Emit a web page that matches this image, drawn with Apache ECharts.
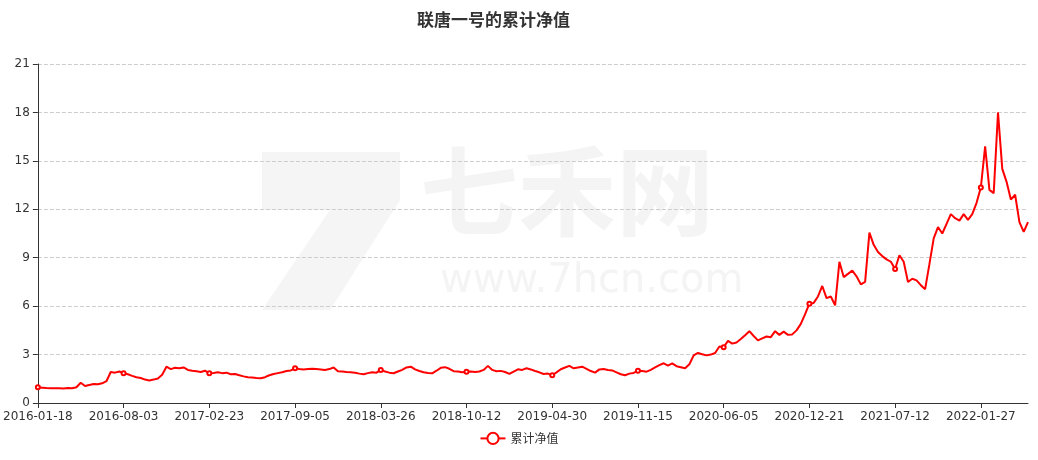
<!DOCTYPE html>
<html>
<head>
<meta charset="utf-8">
<script src="https://cdn.jsdelivr.net/npm/echarts@6/dist/echarts.min.js"></script>
<style>
html,body{margin:0;padding:0;background:#fff;}
#main{width:1038px;height:460px;}
</style>
</head>
<body>
<div id="main"></div>
<script>
// Tick-label dates (every 20th category)
var labelDates = ['2016-01-18','2016-08-03','2017-02-23','2017-09-05','2018-03-26','2018-10-12',
  '2019-04-30','2019-11-15','2020-06-05','2020-12-21','2021-07-12','2022-01-27'];
var stepPerLabel = 20;
var tailCount = 11;

// Cumulative NAV values
var navValues = [
  0.97,0.95,0.93,0.92,0.91,0.92,0.90,0.93,0.91,0.98,1.25,1.05,1.12,1.18,1.16,1.22,1.35,1.92,1.88,1.95,
  1.84,1.78,1.68,1.60,1.55,1.45,1.40,1.45,1.52,1.75,2.25,2.10,2.18,2.15,2.20,2.05,2.00,1.96,1.92,2.00,
  1.84,1.86,1.90,1.85,1.88,1.78,1.80,1.72,1.65,1.60,1.58,1.55,1.53,1.60,1.72,1.80,1.85,1.90,1.98,2.02,
  2.15,2.10,2.08,2.10,2.12,2.10,2.08,2.05,2.10,2.20,1.97,1.95,1.92,1.90,1.88,1.82,1.78,1.85,1.90,1.88,
  2.05,1.95,1.88,1.84,1.95,2.05,2.20,2.25,2.08,1.98,1.90,1.86,1.84,2.00,2.18,2.22,2.12,1.97,1.95,1.90,
  1.93,1.95,1.92,1.95,2.05,2.30,2.05,1.97,1.99,1.92,1.80,1.95,2.09,2.05,2.15,2.08,1.98,1.90,1.80,1.82,
  1.72,1.90,2.09,2.20,2.30,2.15,2.20,2.25,2.12,1.98,1.88,2.08,2.10,2.05,2.02,1.90,1.78,1.72,1.82,1.86,
  2.00,1.98,1.94,2.05,2.20,2.35,2.46,2.32,2.45,2.28,2.22,2.15,2.40,2.95,3.10,3.02,2.95,3.00,3.10,3.50,
  3.45,3.85,3.68,3.75,3.96,4.20,4.45,4.15,3.88,4.00,4.12,4.08,4.45,4.22,4.42,4.22,4.25,4.50,4.90,5.50,
  6.15,6.20,6.60,7.25,6.50,6.60,6.05,8.75,7.80,8.00,8.20,7.85,7.35,7.50,10.55,9.80,9.35,9.10,8.90,8.75,
  8.30,9.15,8.75,7.50,7.70,7.60,7.30,7.05,8.60,10.20,10.90,10.50,11.10,11.70,11.45,11.30,11.70,11.35,11.70,12.40,
  13.35,15.90,13.20,13.00,18.00,14.50,13.70,12.60,12.90,11.20,10.60,11.20
];

var yTicks = { min: 0, max: 21, interval: 3 };

// Build category dates: anchors at label dates, in-between days spread evenly
function parseD(s){ var p=s.split('-'); return Date.UTC(+p[0], +p[1]-1, +p[2]); }
function fmt(t){ var d=new Date(t); var m=d.getUTCMonth()+1, dd=d.getUTCDate();
  return d.getUTCFullYear()+'-'+(m<10?'0':'')+m+'-'+(dd<10?'0':'')+dd; }
var categories = [];
for (var k=0;k<labelDates.length-1;k++){
  var a=parseD(labelDates[k]), b=parseD(labelDates[k+1]);
  for (var j=0;j<stepPerLabel;j++){
    categories.push(j===0?labelDates[k]:fmt(a+Math.round((b-a)*j/stepPerLabel/86400000)*86400000));
  }
}
var lastA=parseD(labelDates[labelDates.length-1]);
categories.push(labelDates[labelDates.length-1]);
for (var j=1;j<=tailCount;j++){ categories.push(fmt(lastA+j*10*86400000)); }

var chart = echarts.init(document.getElementById('main'), null, {renderer:'canvas'});
chart.setOption({
  backgroundColor: '#fff',
  animation: false,
  title: {
    text: '联唐一号的累计净值',
    left: 412, top: 6,
    textStyle: { fontSize: 17, fontWeight: 'bold', color: '#333', fontFamily: 'Noto Sans CJK SC' }
  },
  legend: {
    bottom: 10, left: 'center',
    data: ['累计净值'],
    itemWidth: 25, itemHeight: 14,
    textStyle: { fontSize: 12, color: '#333', fontFamily: 'Noto Sans CJK SC' }
  },
  graphic: [
    { type: 'text', left: 420, top: 142, z: -10, silent: true,
      style: { text: '七禾网', fontSize: 98, fontWeight: 'bold', fill: '#f4f4f4', fontFamily: 'Noto Sans CJK SC' } },
    { type: 'text', left: 440, top: 262, z: -10, silent: true,
      style: { text: 'www.7hcn.com', fontSize: 40, fill: '#f4f4f4', fontFamily: 'DejaVu Sans' } },
    { type: 'polygon', z: -10, silent: true,
      shape: { points: [[262,152],[400,152],[400,200],[330,310],[262,310],[330,210],[262,210]] },
      style: { fill: '#f5f5f5' } }
  ],
  grid: { left: 37, right: 10, top: 64, bottom: 57, containLabel: false },
  xAxis: {
    type: 'category',
    boundaryGap: false,
    data: categories,
    axisLine: { lineStyle: { color: '#333' } },
    axisTick: { interval: stepPerLabel-1, lineStyle: { color: '#333' } },
    axisLabel: { interval: stepPerLabel-1, color: '#333', fontSize: 12, fontFamily: 'DejaVu Sans', margin: 8 },
    splitLine: { show: false }
  },
  yAxis: {
    type: 'value',
    min: yTicks.min, max: yTicks.max, interval: yTicks.interval,
    axisLine: { show: true, lineStyle: { color: '#333' } },
    axisTick: { show: true, lineStyle: { color: '#333' } },
    axisLabel: { color: '#333', fontSize: 12, fontFamily: 'DejaVu Sans' },
    splitLine: { show: true, lineStyle: { type: 'dashed', color: '#ccc' } }
  },
  series: [{
    name: '累计净值',
    type: 'line',
    data: navValues,
    symbol: 'emptyCircle',
    symbolSize: 4,
    itemStyle: { color: '#ff0000', borderWidth: 1 },
    lineStyle: { color: '#ff0000', width: 2 }
  }]
});
</script>
</body>
</html>
